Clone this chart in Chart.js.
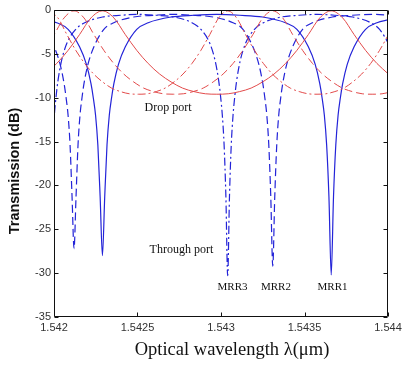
<!DOCTYPE html>
<html><head><meta charset="utf-8">
<script src="https://cdn.jsdelivr.net/npm/chart.js@4/dist/chart.umd.min.js"></script>
<style>html,body{margin:0;padding:0;background:#fff}#wrap{width:420px;height:368px;position:relative}</style>
</head><body><div id="wrap"><canvas id="c" width="420" height="368"></canvas></div>
<script>
// Through port (blue) — MRR1 solid, MRR2 dashed, MRR3 dash-dot
const mrr1ThroughX = [1.541947,1.542016,1.5420845,1.542153,1.5421941,1.5422215,1.5422352,1.5422489,1.5422626,1.5422763,1.54229,1.5423037,1.5423174,1.5423311,1.5423448,1.5423585,1.5423859,1.542427,1.5424955,1.542564,1.542701,1.542838,1.542975,1.543112,1.543249,1.543386,1.5434545,1.543523,1.5435641,1.5435915,1.5436052,1.5436189,1.5436326,1.5436463,1.54366,1.5436737,1.5436874,1.5437011,1.5437148,1.5437285,1.5437559,1.543797,1.5438655,1.543934,1.5440025];
const mrr1ThroughY = [-1.1,-1.45,-2.2,-4.2,-6.2,-8.4,-10.0,-12.0,-15.4,-21.3,-28.0,-21.3,-15.4,-12.0,-10.0,-8.4,-6.2,-4.2,-2.2,-1.45,-0.8,-0.6,-0.5,-0.6,-0.8,-1.45,-2.2,-4.2,-6.2,-8.4,-10.0,-12.0,-15.4,-21.3,-30.2,-21.3,-15.4,-12.0,-10.0,-8.4,-6.2,-4.2,-2.2,-1.45,-1.1];

const mrr2ThroughX = [1.5419415,1.542001,1.5420367,1.5420605,1.5420724,1.5420843,1.5420962,1.5421081,1.54212,1.5421319,1.5421438,1.5421557,1.5421676,1.5421795,1.5422033,1.542239,1.5422985,1.542358,1.542477,1.542596,1.542715,1.542834,1.542953,1.543072,1.5431315,1.543191,1.5432267,1.5432505,1.5432624,1.5432743,1.5432862,1.5432981,1.54331,1.5433219,1.5433338,1.5433457,1.5433576,1.5433695,1.5433933,1.543429,1.5434885,1.543548,1.543667,1.543786,1.543905,1.544024];
const mrr2ThroughY = [-2.2,-4.2,-6.2,-8.4,-10.0,-12.0,-15.4,-21.3,-27.2,-21.3,-15.4,-12.0,-10.0,-8.4,-6.2,-4.2,-2.2,-1.45,-0.8,-0.6,-0.5,-0.6,-0.8,-1.45,-2.2,-4.2,-6.2,-8.4,-10.0,-12.0,-15.4,-21.3,-29.2,-21.3,-15.4,-12.0,-10.0,-8.4,-6.2,-4.2,-2.2,-1.45,-0.8,-0.6,-0.5,-0.6];

const mrr3ThroughX = [1.54197,1.5419807,1.5419914,1.5420021,1.5420128,1.5420235,1.5420449,1.542077,1.5421305,1.542184,1.542291,1.542398,1.542505,1.542612,1.542719,1.542826,1.5428795,1.542933,1.5429651,1.5429865,1.5429972,1.5430079,1.5430186,1.5430293,1.54304,1.5430507,1.5430614,1.5430721,1.5430828,1.5430935,1.5431149,1.543147,1.5432005,1.543254,1.543361,1.543468,1.543575,1.543682,1.543789,1.543896,1.5439495,1.544003];
const mrr3ThroughY = [-28.0,-21.3,-15.4,-12.0,-9.8,-8.1,-5.8,-3.8,-2.2,-1.45,-0.8,-0.6,-0.5,-0.6,-0.8,-1.45,-2.2,-3.8,-5.8,-8.1,-9.8,-12.0,-15.4,-21.3,-30.3,-21.3,-15.4,-12.0,-9.8,-8.1,-5.8,-3.8,-2.2,-1.45,-0.8,-0.6,-0.5,-0.6,-0.8,-1.45,-2.2,-3.8];

// Drop port (red)
const mrr1DropX = [1.5419475,1.542016,1.5420845,1.542153,1.5422215,1.54229,1.5423585,1.542427,1.5424955,1.542564,1.5426325,1.542701,1.5427695,1.542838,1.5429065,1.542975,1.5430435,1.543112,1.5431805,1.543249,1.5433175,1.543386,1.5434545,1.543523,1.5435915,1.54366,1.5437285,1.543797,1.5438655,1.543934,1.5440025];
const mrr1DropY = [-7.3,-6.1,-4.6,-2.8,-0.9,-0.1,-0.9,-2.8,-4.6,-6.1,-7.3,-8.2,-8.9,-9.3,-9.55,-9.6,-9.55,-9.3,-8.9,-8.2,-7.3,-6.1,-4.6,-2.8,-0.9,-0.1,-0.9,-2.8,-4.6,-6.1,-7.3];

const mrr2DropX = [1.5419415,1.542001,1.5420605,1.54212,1.5421795,1.542239,1.5422985,1.542358,1.5424175,1.542477,1.5425365,1.542596,1.5426555,1.542715,1.5427745,1.542834,1.5428935,1.542953,1.5430125,1.543072,1.5431315,1.543191,1.5432505,1.54331,1.5433695,1.543429,1.5434885,1.543548,1.5436075,1.543667,1.5437265,1.543786,1.5438455,1.543905,1.5439645,1.544024];
const mrr2DropY = [-4.6,-2.8,-0.9,-0.1,-0.9,-2.8,-4.6,-6.1,-7.3,-8.2,-8.9,-9.3,-9.55,-9.6,-9.55,-9.3,-8.9,-8.2,-7.3,-6.1,-4.6,-2.8,-0.9,-0.1,-0.9,-2.8,-4.6,-6.1,-7.3,-8.2,-8.9,-9.3,-9.55,-9.6,-9.55,-9.3];

const mrr3DropX = [1.54197,1.5420235,1.542077,1.5421305,1.542184,1.5422375,1.542291,1.5423445,1.542398,1.5424515,1.542505,1.5425585,1.542612,1.5426655,1.542719,1.5427725,1.542826,1.5428795,1.542933,1.5429865,1.54304,1.5430935,1.543147,1.5432005,1.543254,1.5433075,1.543361,1.5434145,1.543468,1.5435215,1.543575,1.5436285,1.543682,1.5437355,1.543789,1.5438425,1.543896,1.5439495,1.544003];
const mrr3DropY = [-0.1,-0.9,-2.8,-4.6,-6.1,-7.3,-8.2,-8.9,-9.3,-9.55,-9.6,-9.55,-9.3,-8.9,-8.2,-7.3,-6.1,-4.6,-2.8,-0.9,-0.1,-0.9,-2.8,-4.6,-6.1,-7.3,-8.2,-8.9,-9.3,-9.55,-9.6,-9.55,-9.3,-8.9,-8.2,-7.3,-6.1,-4.6,-2.8];

// Ticks
const xTickValues = [1.542, 1.5425, 1.543, 1.5435, 1.544];
const xTickLabels = ['1.542', '1.5425', '1.543', '1.5435', '1.544'];
const yTickValues = [0, -5, -10, -15, -20, -25, -30, -35];
const yTickLabels = ['0', '-5', '-10', '-15', '-20', '-25', '-30', '-35'];

// Text annotations
const noteTexts = ['Drop port', 'Through port', 'MRR3', 'MRR2', 'MRR1'];
const noteX = [1.542683, 1.542763, 1.543069, 1.543329, 1.543668];
const noteY = [-11.2, -27.4, -31.6, -31.6, -31.6];
const noteSize = [12, 12, 11, 11, 11];

const xTitle = 'Optical wavelength λ(μm)';
const yTitle = 'Transmission (dB)';

function pts(xs, ys) { return xs.map((x, i) => ({ x: x, y: ys[i] })); }

const BLUE = '#2323d8';
const RED = '#e24a4a';

const deco = {
  id: 'deco',
  afterDraw(chart) {
    const ctx = chart.ctx, a = chart.chartArea, xs = chart.scales.x, ys = chart.scales.y;
    ctx.save();
    ctx.strokeStyle = '#111';
    ctx.lineWidth = 1;
    const L = Math.round(a.left) + 0.5, R = Math.round(a.right) - 0.5;
    const T = Math.round(a.top) + 0.5, B = Math.round(a.bottom) - 0.5;
    ctx.beginPath();
    ctx.rect(L, T, R - L, B - T);
    xTickValues.forEach(v => {
      const p = Math.round(xs.getPixelForValue(v)) + 0.5;
      ctx.moveTo(p, B); ctx.lineTo(p, B - 4);
      ctx.moveTo(p, T); ctx.lineTo(p, T + 4);
    });
    yTickValues.forEach(v => {
      const p = Math.round(ys.getPixelForValue(v)) + 0.5;
      ctx.moveTo(L, p); ctx.lineTo(L + 4, p);
      ctx.moveTo(R, p); ctx.lineTo(R - 4, p);
    });
    ctx.stroke();

    ctx.fillStyle = '#111';
    ctx.textAlign = 'center';
    ctx.textBaseline = 'middle';
    noteTexts.forEach((t, i) => {
      ctx.font = noteSize[i] + 'px "Liberation Serif"';
      ctx.fillText(t, xs.getPixelForValue(noteX[i]), ys.getPixelForValue(noteY[i]));
    });

    ctx.font = '18.5px "Liberation Serif"';
    ctx.fillText(xTitle, 232, 350);

    ctx.save();
    ctx.translate(15, 171);
    ctx.rotate(-Math.PI / 2);
    ctx.font = 'bold 14.5px "Liberation Sans"';
    ctx.fillText(yTitle, 0, 0);
    ctx.restore();
    ctx.restore();
  }
};

const datasets = [
  { data: pts(mrr1DropX, mrr1DropY), borderColor: RED, borderWidth: 1, borderDash: [] },
  { data: pts(mrr2DropX, mrr2DropY), borderColor: RED, borderWidth: 1, borderDash: [8, 4] },
  { data: pts(mrr3DropX, mrr3DropY), borderColor: RED, borderWidth: 1, borderDash: [8, 3, 2, 3] },
  { data: pts(mrr1ThroughX, mrr1ThroughY), borderColor: BLUE, borderWidth: 1.2, borderDash: [] },
  { data: pts(mrr2ThroughX, mrr2ThroughY), borderColor: BLUE, borderWidth: 1.2, borderDash: [8, 4] },
  { data: pts(mrr3ThroughX, mrr3ThroughY), borderColor: BLUE, borderWidth: 1.2, borderDash: [8, 3, 2, 3] }
];

new Chart(document.getElementById('c'), {
  type: 'line',
  data: { datasets: datasets },
  options: {
    responsive: false,
    animation: false,
    layout: { padding: { left: 0, right: 32, top: 10, bottom: 0 } },
    elements: {
      point: { radius: 0, hoverRadius: 0 },
      line: { cubicInterpolationMode: 'monotone', fill: false }
    },
    plugins: { legend: { display: false }, tooltip: { enabled: false } },
    scales: {
      x: {
        type: 'linear', min: 1.542, max: 1.544,
        afterFit: s => { s.height = 51; },
        afterBuildTicks: s => { s.ticks = xTickValues.map(v => ({ value: v })); },
        ticks: {
          autoSkip: false, maxRotation: 0, padding: 4, color: '#333',
          font: { family: 'Liberation Sans', size: 11 },
          callback: (v, i) => xTickLabels[i]
        },
        grid: { drawOnChartArea: false, drawTicks: false },
        border: { display: false }
      },
      y: {
        min: -35, max: 0,
        afterFit: s => { s.width = 54; },
        afterBuildTicks: s => { s.ticks = yTickValues.map(v => ({ value: v })); },
        ticks: {
          autoSkip: false, padding: 3, color: '#333',
          font: { family: 'Liberation Sans', size: 11 },
          callback: (v, i) => yTickLabels[i]
        },
        grid: { drawOnChartArea: false, drawTicks: false },
        border: { display: false }
      }
    }
  },
  plugins: [deco]
});
</script>
</body></html>
